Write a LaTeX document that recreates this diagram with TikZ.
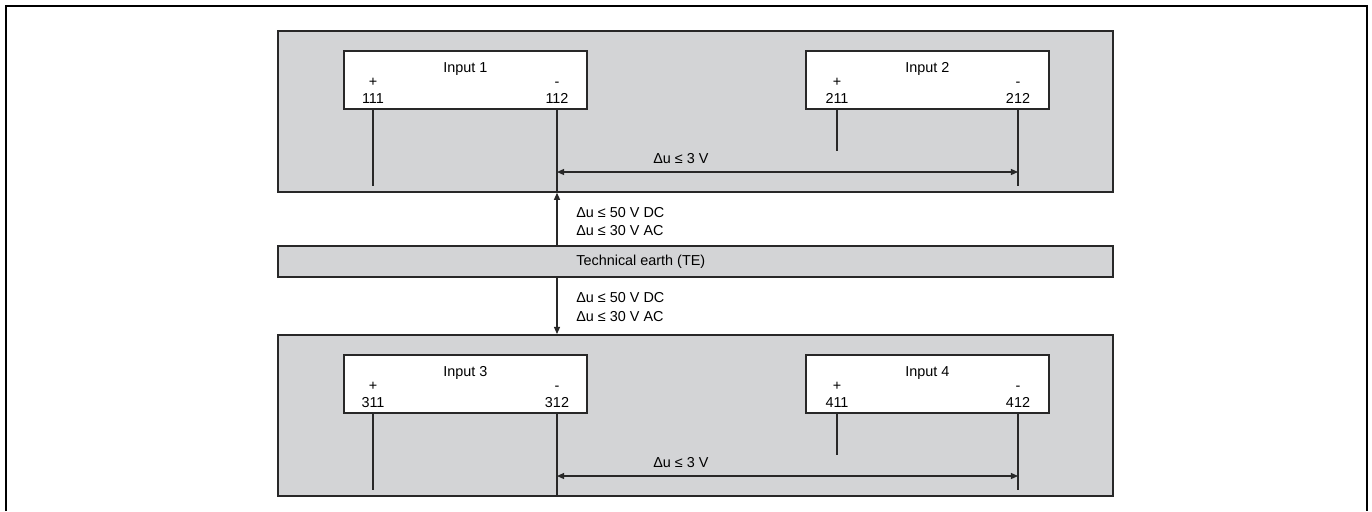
\documentclass[tikz,border=0pt]{standalone}
\usepackage{fontspec}
\setmainfont{Liberation Sans}
\usetikzlibrary{arrows.meta}

\definecolor{panelgray}{RGB}{211,212,214}
\definecolor{linegray}{RGB}{40,40,40}

\tikzset{
  panel/.style={draw=linegray, fill=panelgray, line width=1pt, anchor=north west, inner sep=0pt, minimum width=16.7cm},
  inbox/.style={draw=linegray, fill=white, line width=1pt, anchor=north west, inner sep=0pt, minimum width=4.86cm, minimum height=1.16cm},
  pin/.style={draw=linegray, line width=0.7pt},
  tip/.style={-{Triangle[length=4pt,width=3.4pt]}},
  dimline/.style={pin, {Triangle[length=4pt,width=3.4pt]}-{Triangle[length=4pt,width=3.4pt]}},
  lbl/.style={font=\fontsize{8.2}{9.8}\selectfont, inner sep=0pt, text=black, text height=6pt, text depth=0pt},
}

\begin{document}
\begin{tikzpicture}[x=0.02cm, y=-0.02cm]
	\useasboundingbox (0,0) rectangle (1372,511);
	\draw[line width=1.1pt] (6,511) -- (6,6) -- (1367,6) -- (1367,511);
	% the two input groups
	\foreach \g/\oy/\na/\nb in {A/0/1/2, B/304/3/4} {
		\node[panel, minimum height=3.22cm] (pan\g) at (277,30+\oy) {};
		\node[inbox] (in\na) at (343,50+\oy) {};
		\node[inbox] (in\nb) at (805,50+\oy) {};
		\node[lbl] at (in\na.north |- 0,67+\oy) {Input \na};
		\node[lbl] at (in\nb.north |- 0,67+\oy) {Input \nb};
		% pins
		\coordinate (plus\na) at (373,186+\oy);
		\coordinate (minus\na) at (557,191+\oy);
		\coordinate (plus\nb) at (837,151+\oy);
		\coordinate (minus\nb) at (1018,186+\oy);
		\node[lbl] at (plus\na |- 0,81+\oy) {+};
		\node[lbl] at (plus\na |- 0,98+\oy) {\na11};
		\node[lbl] at (minus\na |- 0,81+\oy) {-};
		\node[lbl] at (minus\na |- 0,98+\oy) {\na12};
		\node[lbl] at (plus\nb |- 0,81+\oy) {+};
		\node[lbl] at (plus\nb |- 0,98+\oy) {\nb11};
		\node[lbl] at (minus\nb |- 0,81+\oy) {-};
		\node[lbl] at (minus\nb |- 0,98+\oy) {\nb12};
		\draw[pin] (in\na.south -| plus\na) -- (plus\na);
		\draw[pin] (in\na.south -| minus\na) -- (minus\na);
		\draw[pin] (in\nb.south -| plus\nb) -- (plus\nb);
		\draw[pin] (in\nb.south -| minus\nb) -- (minus\nb);
		% difference between the groups
		\coordinate (da\g) at (557,172+\oy);
		\coordinate (db\g) at (1018,172+\oy);
		\draw[dimline] (da\g) -- (db\g);
		\node[lbl, anchor=west] at (653,158+\oy) {Δu ≤ 3 V};
	}
	% technical earth
	\node[panel, minimum height=0.62cm] (te) at (277,245) {};
	\node[lbl, anchor=west] at (576,260) {Technical earth (TE)};
	\draw[pin, tip] (te.north -| minus1) -- (panA.south -| minus1);
	\draw[pin, tip] (te.south -| minus1) -- (panB.north -| minus1);
	\node[lbl, anchor=west] at (576,212) {Δu ≤ 50 V DC};
	\node[lbl, anchor=west] at (576,230) {Δu ≤ 30 V AC};
	\node[lbl, anchor=west] at (576,297) {Δu ≤ 50 V DC};
	\node[lbl, anchor=west] at (576,316) {Δu ≤ 30 V AC};
\end{tikzpicture}
\end{document}
